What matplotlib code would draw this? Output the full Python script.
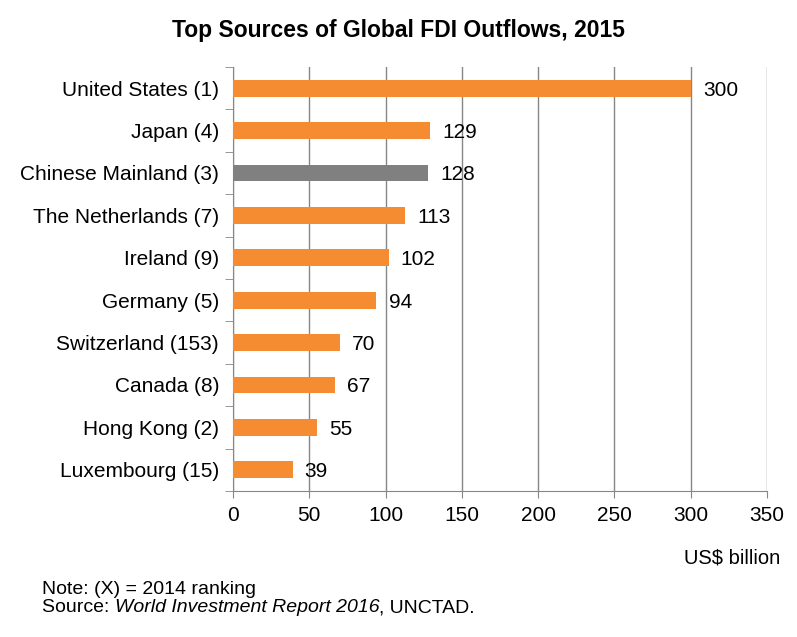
import numpy as np
import matplotlib.pyplot as plt

plt.rcParams['font.family'] = ['Liberation Sans', 'DejaVu Sans']

countries = ['United States (1)', 'Japan (4)', 'Chinese Mainland (3)', 'The Netherlands (7)',
             'Ireland (9)', 'Germany (5)', 'Switzerland (153)', 'Canada (8)',
             'Hong Kong (2)', 'Luxembourg (15)']
values = [300, 129, 128, 113, 102, 94, 70, 67, 55, 39]
colors = ['#F58C32'] * len(values)
colors[2] = '#808080'

fig = plt.figure(figsize=(7.97, 6.37), dpi=100)
ax = fig.add_axes([233/797, 1-491/637, (767-233)/797, (491-67)/637])

y = np.arange(len(values))[::-1]
ax.barh(y, values, height=0.4, color=colors, zorder=3)
for yi, v in zip(y, values):
    ax.text(v + 8, yi, str(v), va='center_baseline', ha='left', fontsize=15)

ax.set_xlim(0, 350)
ax.set_ylim(-0.5, len(values) - 0.5)
ax.set_xticks(np.arange(0, 351, 50))
ax.set_yticks(y)
ax.set_yticklabels(countries, fontsize=15, va='center_baseline')
ax.set_yticks(np.arange(-0.5, len(values), 1), minor=True)
ax.tick_params(axis='y', which='major', length=0, pad=10)
ax.tick_params(axis='y', which='minor', length=6, color='#868686', direction='out')
ax.tick_params(axis='x', labelsize=15, length=5, color='#868686', pad=6)
ax.grid(axis='x', color='#868686', linewidth=1, zorder=0)
for s in ['top', 'right']:
    ax.spines[s].set_visible(False)
for s in ['left', 'bottom']:
    ax.spines[s].set_color('#868686')

fig.text(0.5, 1-30/637, 'Top Sources of Global FDI Outflows, 2015', ha='center', va='center',
         fontsize=16.5, fontweight='bold')
fig.text(780/797, 1-558/637, 'US$ billion', ha='right', va='center', fontsize=14.5)
fig.text(42/797, 1-589/637, 'Note: (X) = 2014 ranking', ha='left', va='center', fontsize=14)

# source line with an italic part
t = fig.text(42/797, 1-608/637, 'Source: ', ha='left', va='center', fontsize=14)
fig.canvas.draw()
r = fig.canvas.get_renderer()
bb = t.get_window_extent(r)
t2 = fig.text(bb.x1 / fig.bbox.width, 1-608/637, 'World Investment Report 2016', ha='left',
              va='center', fontsize=14, style='italic')
bb2 = t2.get_window_extent(r)
fig.text(bb2.x1 / fig.bbox.width, 1-608/637, ', UNCTAD.', ha='left', va='center', fontsize=14)

fig.savefig('out.png', dpi=100)
